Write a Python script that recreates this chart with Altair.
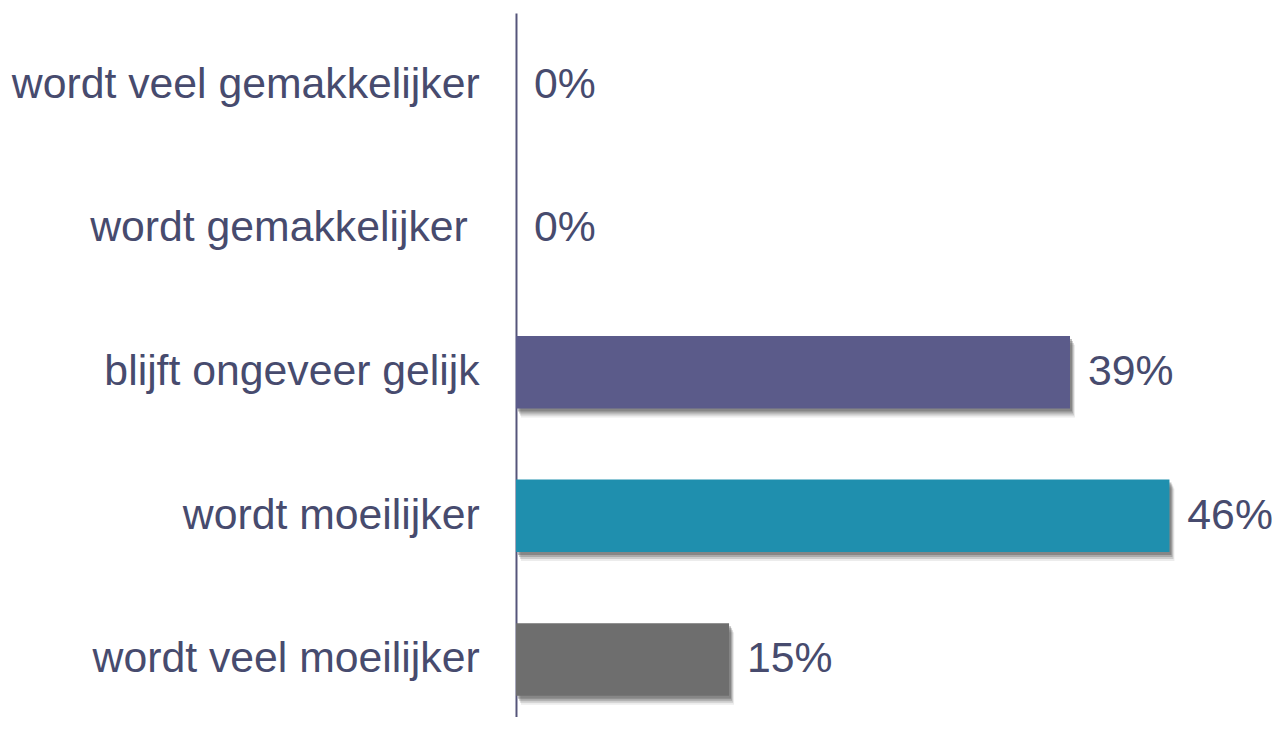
import altair as alt
import pandas as pd

categories = ["wordt veel gemakkelijker", "wordt gemakkelijker\u00a0\u200b", "blijft ongeveer gelijk",
              "wordt moeilijker", "wordt veel moeilijker"]
values = [0, 0, 39, 46, 15]
bar_colors = ["#5b5b8a", "#5b5b8a", "#5b5b8a", "#1f8fae", "#6e6e6e"]

df = pd.DataFrame({"cat": categories, "val": values})
df["label"] = [f"{v}%" for v in values]

FONT = "Liberation Sans, Arial, sans-serif"
TEXT_COLOR = "#474b6e"

y_enc = alt.Y("cat:N", sort=categories,
              scale=alt.Scale(range=[0, 722.5], paddingInner=0.495, paddingOuter=0.2475),
              axis=alt.Axis(title=None, ticks=False, labelFont=FONT, labelFontSize=43,
                            labelColor=TEXT_COLOR, labelPadding=37, labelLimit=600,
                            domainColor="#55557a", domainWidth=2))
x_enc = alt.X("val:Q", scale=alt.Scale(domain=[0, 50]), axis=None)

base = alt.Chart(df)

shadows = [
    base.mark_bar(color="#444444", opacity=o, xOffset=dx, yOffset=dy).encode(x=x_enc, y=y_enc)
    for (dx, dy, o) in [(2, 3, 0.35), (3, 5, 0.25), (4, 7, 0.18), (5, 9, 0.1)]
]

bars = base.mark_bar().encode(
    x=x_enc, y=y_enc,
    color=alt.Color("cat:N", scale=alt.Scale(domain=categories, range=bar_colors), legend=None),
)

text = base.mark_text(align="left", baseline="middle", dx=18, font=FONT, fontSize=43,
                      color=TEXT_COLOR).encode(x=x_enc, y=y_enc, text="label:N")

chart = alt.layer(*shadows, bars, text).properties(
    width=714.5, height=706,
    autosize=alt.AutoSizeParams(type="none"),
    padding={"left": 511, "top": 3, "right": 46, "bottom": 0},
    background="white",
).configure_view(strokeWidth=0)

chart.save("out.html", embed_options={"renderer": "svg", "actions": False})
